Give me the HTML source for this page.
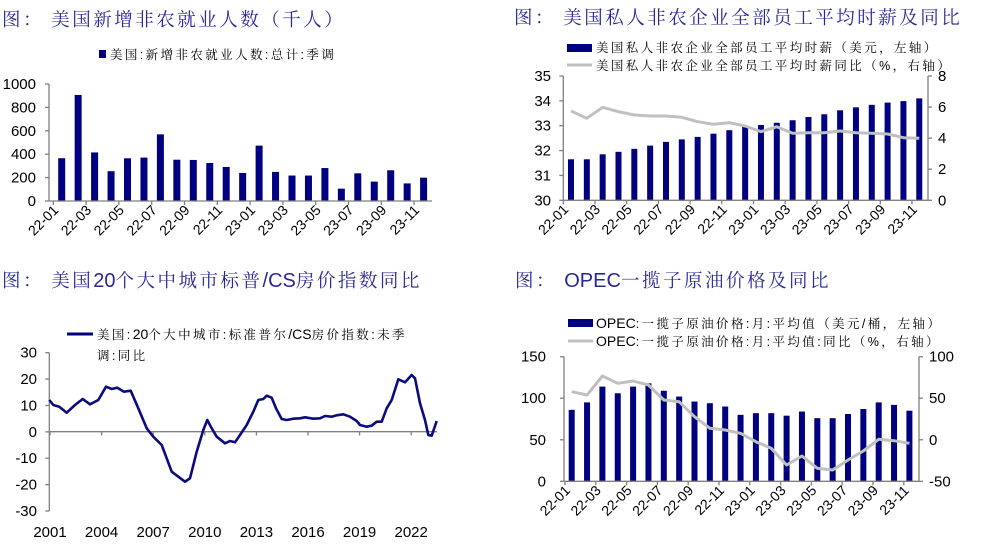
<!DOCTYPE html>
<html><head><meta charset="utf-8">
<style>
html,body{margin:0;padding:0;background:#fff;}
svg{display:block;}
.t{font-family:"Noto Serif CJK SC","Liberation Serif",serif;fill:#28289a;font-size:18.5px;letter-spacing:2.5px;}
.lg{font-family:"Liberation Sans","Noto Serif CJK SC",serif;font-size:12.5px;fill:#000;letter-spacing:2.4px;}
.la{font-family:"Liberation Sans",Arial,sans-serif;letter-spacing:0;}
.ax{font-family:"Liberation Sans",Arial,sans-serif;font-size:15px;fill:#000;}
.xl{font-family:"Liberation Sans",Arial,sans-serif;font-size:14px;fill:#000;}
</style></head>
<body>
<svg id="s" width="987" height="555" xmlns="http://www.w3.org/2000/svg">
<text class="t" x="2" y="26">图：  美国新增非农就业人数（千人）</text>
<text class="t" x="514" y="24">图：  美国私人非农企业全部员工平均时薪及同比</text>
<text class="t" x="2" y="287">图：  美国<tspan class="la" font-size="20">20</tspan>个大中城市标普<tspan class="la" font-size="20">/CS</tspan>房价指数同比</text>
<text class="t" x="515" y="287">图：  <tspan class="la" font-size="20">OPEC</tspan>一揽子原油价格及同比</text>
<rect x="99" y="50" width="7" height="8" fill="#000080"/>
<text class="lg" x="110" y="59">美国:新增非农就业人数:总计:季调</text>
<rect x="567" y="44" width="25" height="8" fill="#000080"/>
<text class="lg" x="596" y="52">美国私人非农企业全部员工平均时薪（美元，左轴）</text>
<line x1="567" y1="65" x2="592" y2="65" stroke="#c0c0c0" stroke-width="3"/>
<text class="lg" x="596" y="70">美国私人非农企业全部员工平均时薪同比（%，右轴）</text>
<line x1="67" y1="334" x2="93" y2="334" stroke="#000080" stroke-width="3"/>
<text class="lg" x="97" y="339">美国:<tspan class="la" font-size="14">20</tspan>个大中城市:标准普尔<tspan class="la" font-size="14">/CS</tspan>房价指数:未季</text>
<text class="lg" x="97" y="360">调:同比</text>
<rect x="568" y="319" width="25" height="8" fill="#000080"/>
<text class="lg" x="596" y="328"><tspan class="la" font-size="14">OPEC</tspan>:一揽子原油价格:月:平均值（美元/桶，左轴）</text>
<line x1="568" y1="341" x2="593" y2="341" stroke="#c0c0c0" stroke-width="3"/>
<text class="lg" x="596" y="346"><tspan class="la" font-size="14">OPEC</tspan>:一揽子原油价格:月:平均值:同比（%，右轴）</text>
</svg>
<script>
var s=document.getElementById('s'),NS='http://www.w3.org/2000/svg';
function el(t,a,txt){var e=document.createElementNS(NS,t);for(var k in a)e.setAttribute(k,a[k]);if(txt!=null)e.textContent=txt;s.appendChild(e);return e;}
function line(x1,y1,x2,y2,c,w){el('line',{x1:x1,y1:y1,x2:x2,y2:y2,stroke:c||'#808080','stroke-width':w||1.3});}
var labs=['22-01','22-03','22-05','22-07','22-09','22-11','23-01','23-03','23-05','23-07','23-09','23-11'];
function xlabels(x0,dx,y){for(var i=0;i<12;i++){var x=x0+dx*i;line(x,y,x,y+4);el('text',{class:'xl','text-anchor':'end',transform:'translate('+(x+6)+','+(y+10)+') rotate(-45)'},labs[i]);}}
function yaxis(x,yTop,yBot,vals,left,lx){var n=vals.length;line(x,yTop,x,yBot);for(var i=0;i<n;i++){var y=yBot-(yBot-yTop)*i/(n-1);line(left?x-4:x,y,left?x:x+4,y);el('text',{class:'ax','text-anchor':left?'end':'start',x:lx,y:y+5},vals[i]);}}
// chart 1
var v1=[365,904,414,254,364,370,568,352,350,324,290,239,472,248,217,217,281,105,236,165,262,150,199];
for(var i=0;i<23;i++){var cx=61.7+16.45*i,h=v1[i]*0.1173;el('rect',{x:cx-3.5,y:201-h,width:7,height:h,fill:'#000080'});}
yaxis(49,84,201,['0','200','400','600','800','1000'],true,36);
line(49,201,432,201);xlabels(53.3,32.8,201);
// chart 2
var v2=[31.65,31.65,31.85,31.95,32.07,32.2,32.35,32.45,32.55,32.68,32.82,32.95,33.03,33.12,33.22,33.35,33.46,33.62,33.74,33.84,33.93,33.99,34.1];
var l2=[111,118.3,107.3,111.7,115,116,116,117.3,121.7,124.3,122.7,126,131.7,126.7,133.3,132.7,132.7,131,132.7,133.3,134,137.7,138.3];
var p='';for(var i=0;i<23;i++){var cx=571+15.83*i,h=(v2[i]-30)*24.86;el('rect',{x:cx-3,y:200.3-h,width:6,height:h,fill:'#000080'});p+=(i?'L':'M')+cx+','+l2[i];}
el('path',{d:p,fill:'none',stroke:'#c0c0c0','stroke-width':3,'stroke-linejoin':'round'});
yaxis(563.3,76,200.3,['30','31','32','33','34','35'],true,551);
yaxis(928,76,200.3,['0','2','4','6','8'],false,938);
line(563.3,200.3,928,200.3);xlabels(563.3,31.7,200.3);
// chart 3
yaxis(49.3,352.7,511,['-30','-20','-10','0','10','20','30'],true,37);
line(49.3,431.7,437,431.7);
var yrs=['2001','2004','2007','2010','2013','2016','2019','2022'];
for(var i=0;i<8;i++){var x=50+51.6*i;line(x,431.7,x,435.5);el('text',{class:'ax','text-anchor':'middle',x:x,y:537},yrs[i]);}
var pts=[[148,405],[160,420],[178,425],[200,443],[225,420],[248,402],[270,418],[295,405],[318,365],[335,372],[352,368],[372,380],[392,377],[415,430],[440,490],[460,515],[485,540],[500,580],[515,620],[535,635],[555,650],[570,640],[590,560],[610,495],[622,465],[635,490],[650,515],[675,535],[690,528],[705,532],[720,510],[740,480],[760,440],[775,405],[790,402],[800,392],[815,398],[828,430],[845,462],[860,465],[880,461],[900,460],[915,457],[940,461],[960,460],[975,453],[995,455],[1010,451],[1030,448],[1050,455],[1070,468],[1080,480],[1100,485],[1115,482],[1130,470],[1145,470],[1160,430],[1175,405],[1195,343],[1215,352],[1235,330],[1245,340],[1260,415],[1275,465],[1285,510],[1295,512],[1310,468]];
p='';pts.forEach(function(q,i){p+=(i?'L':'M')+(q[0]/3).toFixed(1)+','+(q[1]/3+265).toFixed(1);});
el('path',{d:p,fill:'none',stroke:'#0b0b80','stroke-width':2.6,'stroke-linejoin':'round'});
// chart 4
var v4=[86,95,114,106,114,118,109,102,96,94,90,80,82,82,79,84,76,76,81,87,95,92,85];
var l4=[365,375,318,340,333,345,390,395,440,475,480,490,515,535,585,558,595,600,570,543,508,512,520];
p='';for(var i=0;i<23;i++){var cx=571.7+15.35*i,h=v4[i]*0.8307;el('rect',{x:cx-3,y:481.3-h,width:6,height:h,fill:'#000080'});p+=(i?'L':'M')+cx+','+(270+l4[i]/3).toFixed(1);}
el('path',{d:p,fill:'none',stroke:'#c0c0c0','stroke-width':3,'stroke-linejoin':'round'});
yaxis(564,356.7,481.3,['0','50','100','150'],true,546);
yaxis(919,356.7,481.3,['-50','0','50','100'],false,929);
line(564,481.3,919,481.3);xlabels(565,30.8,481.3);
</script>
</body></html>
